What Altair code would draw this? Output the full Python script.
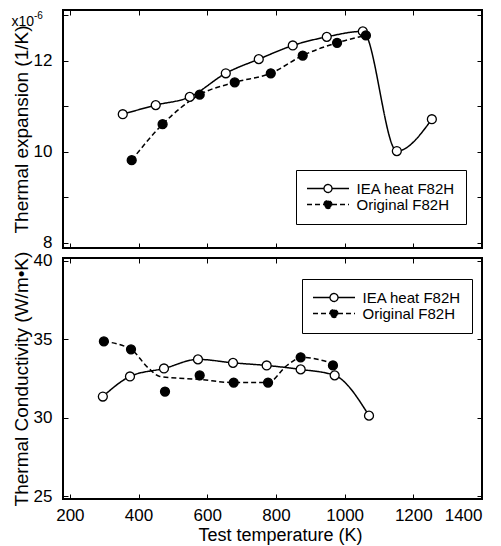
import altair as alt
import pandas as pd

FONT = "Liberation Sans"
series_names = ["IEA heat F82H", "Original F82H"]

# Thermal expansion (x10^-6 1/K)
te_iea_T = [354, 450, 549, 654, 750, 849, 948, 1053, 1152, 1254]
te_iea_v = [10.83, 11.03, 11.21, 11.73, 12.04, 12.34, 12.53, 12.65, 10.02, 10.72]
te_orig_T = [380, 470, 578, 680, 785, 878, 978, 1062]
te_orig_v = [9.82, 10.61, 11.26, 11.53, 11.73, 12.12, 12.40, 12.56]

# Thermal conductivity (W/m.K)
tc_iea_T = [296, 375, 474, 573, 675, 773, 872, 971, 1071]
tc_iea_v = [31.35, 32.63, 33.14, 33.72, 33.50, 33.33, 33.08, 32.70, 30.13]
tc_orig_T = [299, 378, 477, 578, 677, 777, 872, 966]
tc_orig_v = [34.87, 34.36, 31.67, 32.70, 32.24, 32.24, 33.85, 33.33]
# dashed fit curve through the original F82H conductivity data
tc_fit_T = [299, 378, 427, 462, 578, 677, 777, 832, 875, 966]
tc_fit_v = [34.87, 34.36, 33.20, 32.63, 32.44, 32.24, 32.24, 33.33, 33.85, 33.46]

x_ticks = [200, 400, 600, 800, 1000, 1200, 1400]
te_ticks = [8, 9, 10, 11, 12, 13]
tc_ticks = [25, 30, 35, 40]
exp_base = ["x10"]
exp_power = ["-6"]


def frame(T1, v1, T2, v2):
    return pd.DataFrame({
        "T": list(T1) + list(T2),
        "v": list(v1) + list(v2),
        "series": [series_names[0]] * len(T1) + [series_names[1]] * len(T2),
    })


LEG_PATH = "M-4.2,0L-0.8,0M0.8,0L4.2,0M-0.8,0A0.8,0.8,0,1,1,0.8,0A0.8,0.8,0,1,1,-0.8,0Z"

axis_common = dict(domain=False, grid=False, ticks=True, tickSize=5, offset=-5,
                   tickColor="black", tickWidth=1, labelFont=FONT, labelFontSize=17,
                   labelColor="black", titleFont=FONT,
                   titleFontWeight="normal", titleColor="black", format="d")

dash_scale = alt.Scale(domain=series_names, range=[[1, 0], [5, 3]])
fill_scale = alt.Scale(domain=series_names, range=["white", "black"])


def make_legend(lx, ly):
    return alt.Legend(orient="none", legendX=lx, legendY=ly, title=None, direction="vertical",
                      symbolType=LEG_PATH, symbolSize=100, symbolOffset=13.5,
                      symbolStrokeColor="black", symbolStrokeWidth=1.3,
                      labelFont=FONT, labelFontSize=15, labelColor="black",
                      labelOffset=21, rowPadding=0, padding=11, labelLimit=300,
                      strokeColor="black", fillColor="white", zindex=10)


def panel(line_df, pt_df, ydomain, yticks, ytitle, show_x, lx, ly, h, label_expr):
    xs = alt.Scale(domain=[180, 1400], nice=False, zero=False)
    ys = alt.Scale(domain=ydomain, nice=False, zero=False)
    if show_x:
        xb = alt.Axis(orient="bottom", values=x_ticks, labelPadding=8, titlePadding=3,
                      titleFontSize=18, titleX=217, **axis_common)
        xtitle = "Test temperature (K)"
    else:
        xb = alt.Axis(orient="bottom", values=x_ticks, labels=False, **axis_common)
        xtitle = None
    yl = alt.Axis(orient="left", values=yticks, labelPadding=11, titlePadding=2,
                  titleFontSize=19, labelExpr=label_expr, **axis_common)
    leg = make_legend(lx, ly)
    lines = alt.Chart(line_df).mark_line(interpolate="monotone", color="black", strokeWidth=1.5).encode(
        x=alt.X("T:Q", scale=xs, axis=xb, title=xtitle),
        y=alt.Y("v:Q", scale=ys, axis=yl, title=ytitle),
        strokeDash=alt.StrokeDash("series:N", scale=dash_scale, legend=leg),
    )
    pts = alt.Chart(pt_df).mark_point(shape="circle", filled=True, size=80, stroke="black",
                                      strokeWidth=1.3, opacity=1).encode(
        x=alt.X("T:Q", scale=xs, axis=alt.Axis(orient="top", values=x_ticks, labels=False, **axis_common), title=None),
        y=alt.Y("v:Q", scale=ys, axis=alt.Axis(orient="right", values=yticks, labels=False, **axis_common), title=None),
        fill=alt.Fill("series:N", scale=fill_scale, legend=leg),
    )
    layers = [lines, pts]
    if not show_x:
        t1 = alt.Chart(pd.DataFrame({"t": exp_base})).mark_text(
            align="right", baseline="alphabetic", fontSize=14, font=FONT, color="black").encode(
            x=alt.value(-29), y=alt.value(16), text="t:N")
        t2 = alt.Chart(pd.DataFrame({"t": exp_power})).mark_text(
            align="left", baseline="alphabetic", fontSize=10, font=FONT, color="black").encode(
            x=alt.value(-29), y=alt.value(9), text="t:N")
        layers += [t1, t2]
    return alt.layer(*layers).resolve_axis(x="independent", y="independent").properties(width=419, height=h)


top = panel(frame(te_iea_T, te_iea_v, te_orig_T, te_orig_v),
            frame(te_iea_T, te_iea_v, te_orig_T, te_orig_v),
            [7.89, 13.12], te_ticks, "Thermal expansion (1/K)", False, 233, 160, 238,
            "datum.value % 2 == 0 ? datum.label : ''")
bottom = panel(frame(tc_iea_T, tc_iea_v, tc_fit_T, tc_fit_v),
               frame(tc_iea_T, tc_iea_v, tc_orig_T, tc_orig_v),
               [24.81, 40.19], tc_ticks, "Thermal Conductivity (W/m\u2022K)", True, 239, 21, 241,
               "datum.label")

chart = alt.vconcat(top, bottom, spacing=10, bounds="flush").resolve_scale(
    fill="independent", strokeDash="independent"
).resolve_legend(fill="independent", strokeDash="independent").properties(
    padding={"left": 2, "top": 0, "right": 5, "bottom": 2}
).configure_view(stroke="black", strokeWidth=2)

chart.save("out.html", embed_options={"renderer": "svg", "actions": False})
